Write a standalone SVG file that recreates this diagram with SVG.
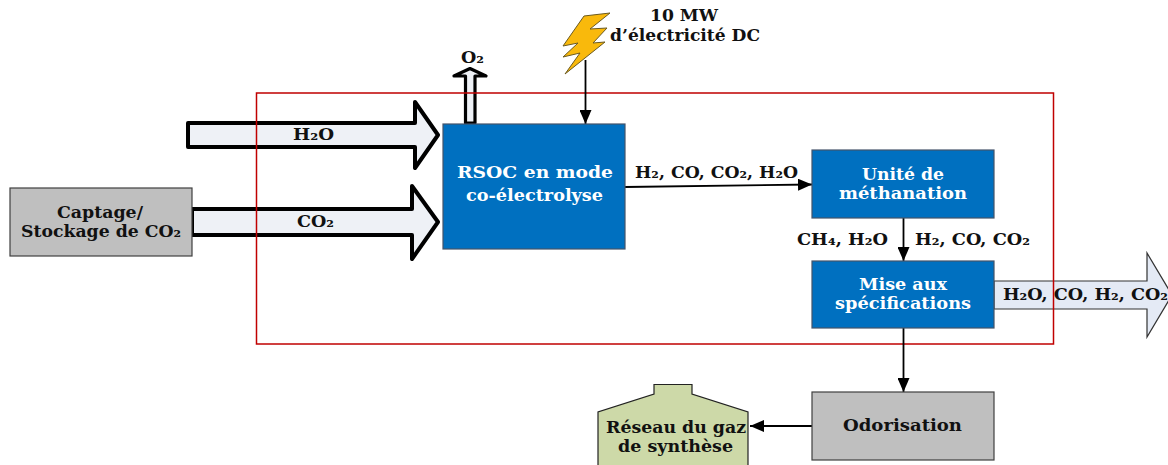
<svg xmlns="http://www.w3.org/2000/svg" width="1168" height="465" viewBox="0 0 1168 465">
<style>
text{font-family:"DejaVu Serif","Liberation Serif",serif;font-weight:bold;font-size:16px;fill:#111;text-anchor:middle}
.w{fill:#fff}
.blue{fill:#0070c0;stroke:#44546a;stroke-width:1.2}
.grey{fill:#bfbfbf;stroke:#404040;stroke-width:1.2}
.fat{fill:#eef1f6;stroke:#000;stroke-width:4;stroke-linejoin:round}
.c{fill:none;stroke:#000;stroke-width:1.8}
</style>
<defs>
<marker id="a" markerUnits="userSpaceOnUse" markerWidth="14" markerHeight="12" refX="14" refY="6" viewBox="0 0 14 12" orient="auto"><path d="M0 0L14 6L0 12Z" fill="#000"/></marker>
</defs>
<rect width="1168" height="465" fill="#fff"/>
<g id="flux-sortie">
<path d="M994 281H1147V253L1172 295L1147 337V309H994Z" fill="#e4eaf5" stroke="#333" stroke-width="1.2"/>
<text x="1085.500" y="300" textLength="165" lengthAdjust="spacingAndGlyphs">H₂O, CO, H₂, CO₂</text>
</g>
<g id="flux-h2o">
<path class="fat" d="M188 123H415V102L438 135L415 168V147H188Z"/>
<text x="313.500" y="140" textLength="41" lengthAdjust="spacingAndGlyphs">H₂O</text>
</g>
<g id="flux-co2">
<path class="fat" d="M192 209H412V186L438 222L412 259V235H192Z"/>
<text x="315.500" y="227" textLength="37" lengthAdjust="spacingAndGlyphs">CO₂</text>
</g>
<g id="flux-o2">
<path d="M465.500 123V76H454L470 68.500L486 76H475V123Z" fill="#eef1f6" stroke="#000" stroke-width="3.200" stroke-linejoin="round"/>
<text x="472.500" y="63" textLength="23" lengthAdjust="spacingAndGlyphs">O₂</text>
</g>
<rect id="perimetre" x="256.500" y="93" width="797" height="251" fill="none" stroke="#c00000" stroke-width="1.500"/>
<g id="connecteurs">
<path class="c" marker-end="url(#a)" d="M585.500 60V124"/>
<path class="c" marker-end="url(#a)" d="M625 187L812 184.500"/>
<path class="c" marker-end="url(#a)" d="M903.500 218V261"/>
<path class="c" marker-end="url(#a)" d="M903.500 328V392"/>
<path class="c" marker-end="url(#a)" d="M812 426H750"/>
</g>
<g id="eclair">
<path d="M584 16L610 13L590 29L607 28L593 43L605 42L565 74L580 53L563 57L578 43L563 46Z" fill="#f9b90c" stroke="#6b5a20" stroke-width="1"/>
<text x="684" y="21" textLength="68" lengthAdjust="spacingAndGlyphs">10 MW</text>
<text x="685" y="41" textLength="150" lengthAdjust="spacingAndGlyphs">d’électricité DC</text>
</g>
<g id="rsoc">
<rect class="blue" x="443" y="124" width="182" height="125"/>
<text class="w" x="535" y="178" style="font-size:17px" textLength="156" lengthAdjust="spacingAndGlyphs">RSOC en mode</text>
<text class="w" x="534.500" y="201" textLength="137" lengthAdjust="spacingAndGlyphs">co-électrolyse</text>
</g>
<g id="captage">
<rect class="grey" x="10" y="188" width="182" height="68"/>
<text x="100" y="218" textLength="86" lengthAdjust="spacingAndGlyphs">Captage/</text>
<text x="101" y="237" textLength="160" lengthAdjust="spacingAndGlyphs">Stockage de CO₂</text>
</g>
<g id="methanation">
<rect class="blue" x="812" y="150" width="182" height="68"/>
<text class="w" x="903" y="180" textLength="82" lengthAdjust="spacingAndGlyphs">Unité de</text>
<text class="w" x="903" y="199" textLength="128" lengthAdjust="spacingAndGlyphs">méthanation</text>
</g>
<g id="specifications">
<rect class="blue" x="812" y="261" width="182" height="67"/>
<text class="w" x="903" y="290" textLength="88" lengthAdjust="spacingAndGlyphs">Mise aux</text>
<text class="w" x="903" y="309" textLength="136" lengthAdjust="spacingAndGlyphs">spécifications</text>
</g>
<g id="odorisation">
<rect class="grey" x="812" y="392" width="182" height="68"/>
<text x="902.500" y="431" textLength="119" lengthAdjust="spacingAndGlyphs">Odorisation</text>
</g>
<g id="reseau">
<path d="M654 384.500H692V394L748 412V470H598V412L654 394Z" fill="#cdd9a8" stroke="#222" stroke-width="1.200"/>
<text x="676" y="433" textLength="140" lengthAdjust="spacingAndGlyphs">Réseau du gaz</text>
<text x="675.500" y="452" textLength="115" lengthAdjust="spacingAndGlyphs">de synthèse</text>
</g>
<g id="etiquettes">
<text x="716.500" y="178" textLength="163" lengthAdjust="spacingAndGlyphs">H₂, CO, CO₂, H₂O</text>
<text x="842.500" y="245" textLength="91" lengthAdjust="spacingAndGlyphs">CH₄, H₂O</text>
<text x="972.500" y="245" textLength="115" lengthAdjust="spacingAndGlyphs">H₂, CO, CO₂</text>
</g>
</svg>
